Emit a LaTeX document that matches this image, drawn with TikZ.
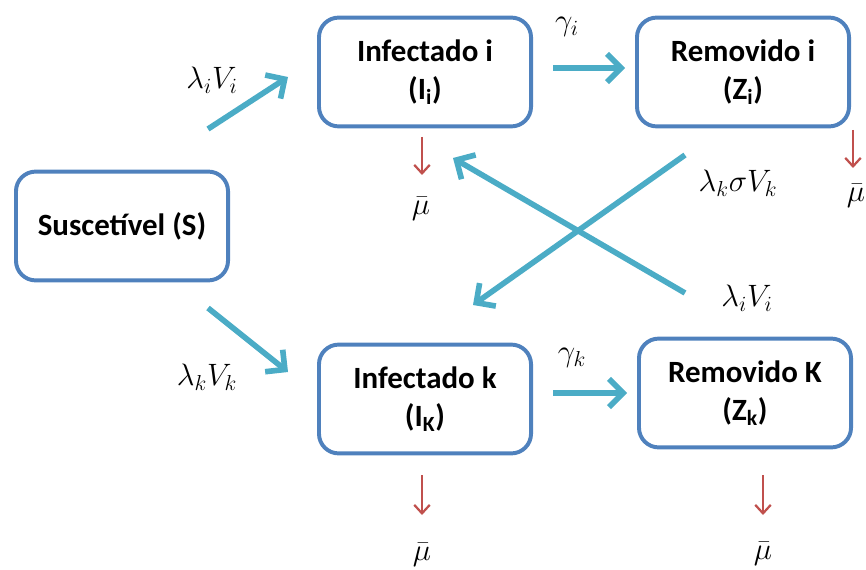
\RequirePackage{fix-cm}
\documentclass[tikz,border=0pt]{standalone}
\usepackage{fontspec}
\setsansfont{Carlito}
\usetikzlibrary{arrows.meta,positioning}

\definecolor{boxblue}{RGB}{79,129,189}
\definecolor{flowcyan}{RGB}{75,172,198}
\definecolor{lossred}{RGB}{192,80,77}

\tikzset{
  compartment/.style={draw=boxblue, line width=2.8pt, rounded corners=14pt,
    minimum width=5.3cm, minimum height=2.72cm, align=center,
    font=\sffamily\bfseries\fontsize{22}{27}\selectfont},
  flow/.style={draw=flowcyan, line width=4pt,
    -{Straight Barb[length=10pt,width=20pt]}},
  loss/.style={draw=lossred, line width=1.6pt,
    -{Straight Barb[length=6pt,width=11pt]}},
  rate/.style={inner sep=0pt, font=\fontsize{22}{26}\selectfont},
}

\begin{document}
\begin{tikzpicture}[x=0.025cm, y=-0.025cm]
\useasboundingbox (0,0) rectangle (866,570);

% compartments
\node[compartment] (S)  at (122,226) {Suscetível (S)};
\node[compartment] (Ii) at (425,72)  {Infectado i\\(I\textsubscript{i})};
\node[compartment] (Zi) at (743,72)  {Removido i\\(Z\textsubscript{i})};
\node[compartment] (Ik) at (425,399) {Infectado k\\(I\textsubscript{K})};
\node[compartment] (Zk) at (745,393) {Removido K\\(Z\textsubscript{k})};

% rates on the flows
\node[rate] (rSIi)  at (212,80)  {$\lambda_i V_i$};
\node[rate] (rSIk)  at (207,377) {$\lambda_k V_k$};
\node[rate] (gi)    at (567,27)  {$\gamma_i$};
\node[rate] (gk)    at (572,358) {$\gamma_k$};
\node[rate] (rZiIk) at (738,183) {$\lambda_k \sigma V_k$};
\node[rate] (rZkIi) at (747,298) {$\lambda_i V_i$};

% death rates
\node[rate] (muIi) at (421,209) {$\bar{\mu}$};
\node[rate] (muZi) at (856,196) {$\bar{\mu}$};
\node[rate] (muIk) at (422,555) {$\bar{\mu}$};
\node[rate] (muZk) at (763,554) {$\bar{\mu}$};

% ends of the flow arrows
\coordinate (a1) at (208,129); \coordinate (b1) at (288,77);
\coordinate (a2) at (208,308); \coordinate (b2) at (288,372);
\coordinate (a3) at (553,68);  \coordinate (b3) at (625,68);
\coordinate (a4) at (553,393); \coordinate (b4) at (627,393);
\coordinate (a5) at (685,155); \coordinate (b5) at (473,305);
\coordinate (a6) at (685,293); \coordinate (b6) at (453,158);

\draw [flow] (a1) -- (b1);
\draw [flow] (a2) -- (b2);
\draw [flow] (a3) -- (b3);
\draw [flow] (a4) -- (b4);
\draw [flow] (a5) -- (b5);
\draw [flow] (a6) -- (b6);

% ends of the death arrows
\coordinate (d1) at (422,137); \coordinate (e1) at (422,175);
\coordinate (d2) at (853,130); \coordinate (e2) at (853,168);
\coordinate (d3) at (422,475); \coordinate (e3) at (422,515);
\coordinate (d4) at (763,475); \coordinate (e4) at (763,515);

\draw [loss] (d1) -- (e1);
\draw [loss] (d2) -- (e2);
\draw [loss] (d3) -- (e3);
\draw [loss] (d4) -- (e4);
\end{tikzpicture}
\end{document}
